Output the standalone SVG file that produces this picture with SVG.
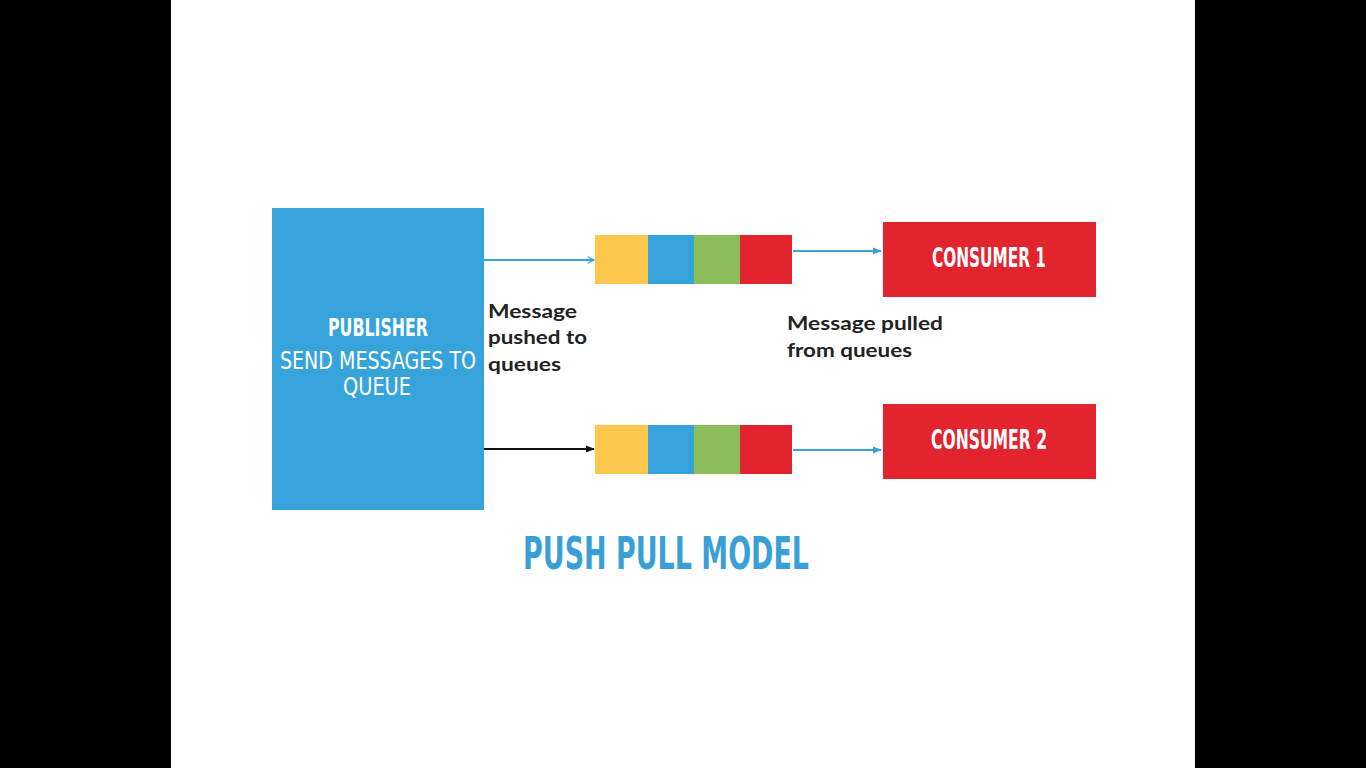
<svg xmlns="http://www.w3.org/2000/svg" width="1366" height="768" viewBox="0 0 1366 768">
<defs>
<style>
.cond{font-family:"DejaVu Sans Condensed","DejaVu Sans",sans-serif;font-stretch:condensed;fill:#fff;text-anchor:middle}
.lbl{font-family:Lato,"Open Sans",sans-serif;font-weight:bold;font-size:18px;fill:#222}
.blue{stroke:#3aa2d6;stroke-width:2;fill:none}
</style>
<marker id="ab" viewBox="0 0 10 10" refX="9" refY="5" markerWidth="8" markerHeight="8" markerUnits="userSpaceOnUse" orient="auto"><path d="M1,1 L9,5 L1,9" fill="none" stroke="#3aa2d6" stroke-width="1.6"/></marker>
<marker id="abf" viewBox="0 0 10 10" refX="9" refY="5" markerWidth="9" markerHeight="9" markerUnits="userSpaceOnUse" orient="auto"><path d="M0,1 L10,5 L0,9 Z" fill="#3aa2d6"/></marker>
<marker id="ak" viewBox="0 0 10 10" refX="9" refY="5" markerWidth="9" markerHeight="9" markerUnits="userSpaceOnUse" orient="auto"><path d="M0,1 L10,5 L0,9 Z" fill="#111"/></marker>
</defs>
<rect x="0" y="0" width="1366" height="768" fill="#000"/>
<rect x="171" y="0" width="1024" height="768" fill="#fff"/>
<g id="publisher">
<rect x="272" y="208" width="212" height="302" fill="#36a3db"/>
<text class="cond" x="378" y="336" font-size="25" font-weight="bold" textLength="100" lengthAdjust="spacingAndGlyphs">PUBLISHER</text>
<text class="cond" x="378" y="369" font-size="25" textLength="196" lengthAdjust="spacingAndGlyphs">SEND MESSAGES TO</text>
<text class="cond" x="377" y="395" font-size="25" textLength="68" lengthAdjust="spacingAndGlyphs">QUEUE</text>
</g>
<g id="queue1">
<rect x="595" y="235" width="53" height="49" fill="#fcc74c"/>
<rect x="648" y="235" width="46" height="49" fill="#36a3db"/>
<rect x="694" y="235" width="46" height="49" fill="#8bbd5a"/>
<rect x="740" y="235" width="52" height="49" fill="#e2242f"/>
</g>
<g id="queue2">
<rect x="595" y="425" width="53" height="49" fill="#fcc74c"/>
<rect x="648" y="425" width="46" height="49" fill="#36a3db"/>
<rect x="694" y="425" width="46" height="49" fill="#8bbd5a"/>
<rect x="740" y="425" width="52" height="49" fill="#e2242f"/>
</g>
<g id="consumer1">
<rect x="883" y="222" width="213" height="75" fill="#e2242f"/>
<text class="cond" x="989" y="267" font-size="27" font-weight="bold" textLength="114" lengthAdjust="spacingAndGlyphs">CONSUMER 1</text>
</g>
<g id="consumer2">
<rect x="883" y="404" width="213" height="75" fill="#e2242f"/>
<text class="cond" x="989" y="449" font-size="27" font-weight="bold" textLength="116" lengthAdjust="spacingAndGlyphs">CONSUMER 2</text>
</g>
<g id="connectors">
<line class="blue" x1="484" y1="260" x2="594" y2="260" stroke-width="1.6" marker-end="url(#ab)"/>
<line x1="484" y1="449" x2="594" y2="449" stroke="#111" stroke-width="2" marker-end="url(#ak)"/>
<line class="blue" x1="793" y1="251" x2="881" y2="251" marker-end="url(#abf)"/>
<line class="blue" x1="793" y1="450" x2="881" y2="450" marker-end="url(#abf)"/>
</g>
<g id="labels">
<text class="lbl" x="488" y="318" textLength="89" lengthAdjust="spacingAndGlyphs">Message</text>
<text class="lbl" x="488" y="344" textLength="99" lengthAdjust="spacingAndGlyphs">pushed to</text>
<text class="lbl" x="488" y="371" textLength="73" lengthAdjust="spacingAndGlyphs">queues</text>
<text class="lbl" x="787" y="330" textLength="156" lengthAdjust="spacingAndGlyphs">Message pulled</text>
<text class="lbl" x="787" y="357" textLength="125" lengthAdjust="spacingAndGlyphs">from queues</text>
</g>
<text x="666" y="569" font-family="'DejaVu Sans Condensed','DejaVu Sans',sans-serif" font-weight="bold" font-size="44" fill="#3a9fd6" text-anchor="middle" textLength="286" lengthAdjust="spacingAndGlyphs">PUSH PULL MODEL</text>
</svg>
